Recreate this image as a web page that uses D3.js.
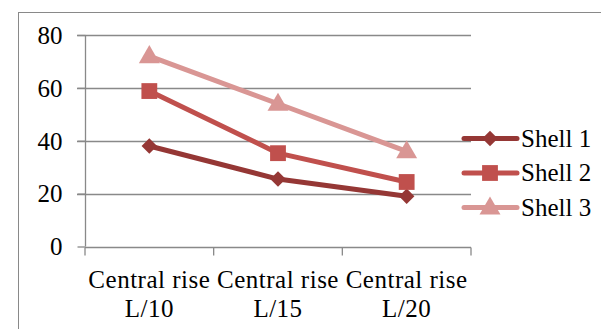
<!DOCTYPE html>
<html><head><meta charset="utf-8">
<script src="https://cdn.jsdelivr.net/npm/d3@7"></script>
<style>body{margin:0;background:#fff}svg{display:block}text{font-family:"Liberation Serif","Times New Roman",serif;fill:#000}</style>
</head><body><svg id="c" width="601" height="329"></svg>
<script>
const categories = ["Central rise|L/10", "Central rise|L/15", "Central rise|L/20"];
const seriesNames = ["Shell 1", "Shell 2", "Shell 3"];
const shell1 = [38, 25.5, 19];
const shell2 = [58.8, 35.3, 24.4];
const shell3 = [72, 54, 36];
const yTicks = [0, 20, 40, 60, 80];
const colors = ["#953735", "#C0504D", "#D99694"];

const diamond = { draw(ctx, size) { const r = Math.sqrt(size / 2); ctx.moveTo(0, -r); ctx.lineTo(r, 0); ctx.lineTo(0, r); ctx.lineTo(-r, 0); ctx.closePath(); } };
const symbols = [diamond, d3.symbolSquare, d3.symbolTriangle];
const symSizes = [120, 250, 190];

const svg = d3.select("#c");
const L = 85, R = 471, T = 35, B = 246.5;
const x = d3.scaleBand().domain(categories).range([L, R]);
const y = d3.scaleLinear().domain([0, 80]).range([B, T]);
const FS = 25;

// outer border
svg.append("rect").attr("x", 18.5).attr("y", 12.5).attr("width", 700).attr("height", 400)
  .attr("fill", "none").attr("stroke", "#898989").attr("stroke-width", 1);

// gridlines
svg.append("g").selectAll("line").data(yTicks.filter(d => d > 0)).join("line")
  .attr("x1", 77).attr("x2", R).attr("y1", d => Math.round(y(d)) + 0.5).attr("y2", d => Math.round(y(d)) + 0.5)
  .attr("stroke", "#898989").attr("stroke-width", 1.3);

// y axis
const yAxis = d3.axisLeft(y).tickValues(yTicks).tickSize(8).tickPadding(15).tickFormat(d3.format("d"));
const gy = svg.append("g").attr("transform", `translate(${L + 0.5},0)`).call(yAxis);
gy.attr("font-size", FS).attr("font-family", "Liberation Serif");
gy.select(".domain").attr("stroke", "#898989").attr("stroke-width", 1.3).attr("d", `M0,${T}V${B}`);
gy.selectAll(".tick line").attr("stroke", "#898989").attr("stroke-width", 1.3);
gy.selectAll(".tick text").attr("font-size", FS).attr("dy", "0.33em").attr("fill", "#000");

// x axis
const gx = svg.append("g").attr("transform", `translate(0,${Math.round(B) + 0.5})`);
gx.append("line").attr("x1", L).attr("x2", R).attr("stroke", "#898989").attr("stroke-width", 1.3);
const bounds = categories.map(c => x(c)).concat([R]);
gx.selectAll("line.t").data(bounds).join("line").attr("class", "t")
  .attr("x1", d => d).attr("x2", d => d).attr("y1", 0).attr("y2", 8)
  .attr("stroke", "#898989").attr("stroke-width", 1.3);
const lbl = gx.selectAll("text.c").data(categories).join("text").attr("class", "c")
  .attr("text-anchor", "middle").attr("font-size", FS).attr("letter-spacing", "0.5px");
lbl.each(function(d) {
  const parts = d.split("|");
  const t = d3.select(this);
  parts.forEach((p, i) => t.append("tspan").attr("x", x(d) + x.bandwidth() / 2).attr("y", 40.5 + i * 29).text(p));
});

// series
const data = [shell1, shell2, shell3];
const line = d3.line().x((d, i) => x(categories[i]) + x.bandwidth() / 2).y(d => y(d));
data.forEach((s, k) => {
  svg.append("path").attr("d", line(s)).attr("fill", "none").attr("stroke", colors[k])
    .attr("stroke-width", 5).attr("stroke-linejoin", "round");
});
data.forEach((s, k) => {
  svg.append("g").selectAll("path").data(s).join("path")
    .attr("transform", (d, i) => `translate(${x(categories[i]) + x.bandwidth() / 2},${y(d) + (k === 2 ? 1 : 0)})`)
    .attr("d", d3.symbol().type(symbols[k]).size(symSizes[k])).attr("fill", colors[k]);
});

// legend
const lg = svg.append("g");
seriesNames.forEach((n, k) => {
  const ly = 138.5 + k * 34.5;
  lg.append("line").attr("x1", 464).attr("x2", 517).attr("y1", ly).attr("y2", ly)
    .attr("stroke", colors[k]).attr("stroke-width", 5).attr("stroke-linecap", "round");
  lg.append("path").attr("transform", `translate(490,${ly + (k === 2 ? 1 : 0)})`)
    .attr("d", d3.symbol().type(symbols[k]).size(symSizes[k])).attr("fill", colors[k]);
  lg.append("text").attr("x", 521).attr("y", ly).attr("dy", "0.33em").attr("font-size", FS).text(n);
});
</script></body></html>
